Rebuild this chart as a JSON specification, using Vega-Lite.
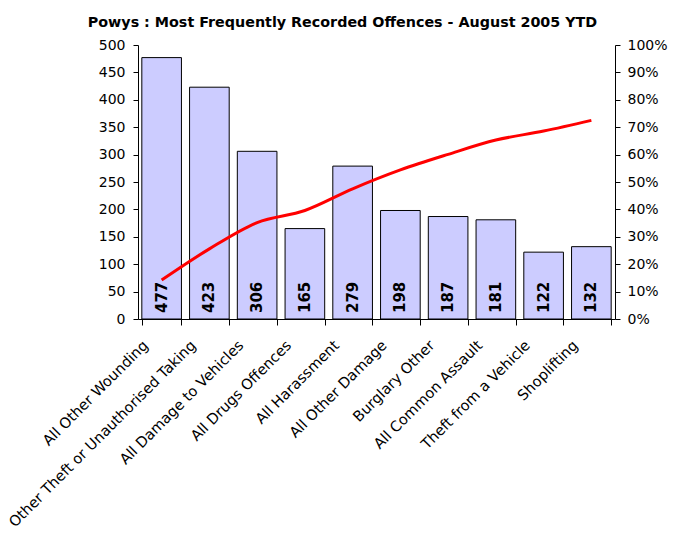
{
  "$schema": "https://vega.github.io/schema/vega-lite/v6.json",
  "background": "white",
  "padding": {"left": 5, "right": 5, "top": 15, "bottom": 5},
  "width": 477,
  "height": 274,
  "title": {
    "text": "Powys : Most Frequently Recorded Offences - August 2005 YTD",
    "font": "DejaVu Sans",
    "fontSize": 14.3,
    "fontWeight": "bold",
    "color": "black",
    "anchor": "middle",
    "frame": "bounds",
    "dx": 6,
    "offset": 8
  },
  "data": {
    "values": [
      {"offence": "All Other Wounding", "count": 477, "cum": 0.142},
      {"offence": "Other Theft or Unauthorised Taking", "count": 423, "cum": 0.256},
      {"offence": "All Damage to Vehicles", "count": 306, "cum": 0.352},
      {"offence": "All Drugs Offences", "count": 165, "cum": 0.396},
      {"offence": "All Harassment", "count": 279, "cum": 0.475},
      {"offence": "All Other Damage", "count": 198, "cum": 0.544},
      {"offence": "Burglary Other", "count": 187, "cum": 0.601},
      {"offence": "All Common Assault", "count": 181, "cum": 0.653},
      {"offence": "Theft from a Vehicle", "count": 122, "cum": 0.686},
      {"offence": "Shoplifting", "count": 132, "cum": 0.725}
    ]
  },
  "encoding": {
    "x": {
      "field": "offence",
      "type": "nominal",
      "sort": null,
      "scale": {"paddingInner": 0.17, "paddingOuter": 0.08},
      "axis": {
        "title": null,
        "labelAngle": -45,
        "labelAlign": "right",
        "labelBaseline": "middle",
        "labelFont": "DejaVu Sans",
        "labelFontSize": 14.6,
        "labelColor": "black",
        "labelPadding": 18,
        "labelOffset": -16,
        "labelLimit": 400,
        "tickBand": "extent",
        "tickColor": "black",
        "tickSize": 6,
        "domainColor": "black"
      }
    }
  },
  "layer": [
    {
      "layer": [
        {
          "mark": {"type": "bar", "fill": "#CCCCFF", "stroke": "black", "strokeWidth": 1},
          "encoding": {
            "y": {
              "field": "count",
              "type": "quantitative",
              "scale": {"domain": [0, 500], "nice": false},
              "axis": {
                "title": null,
                "values": [0, 50, 100, 150, 200, 250, 300, 350, 400, 450, 500],
                "labelOverlap": false,
                "grid": false,
                "labelFont": "DejaVu Sans",
                "labelFontSize": 14,
                "labelColor": "black",
                "tickColor": "black",
                "tickSize": 5,
                "domainColor": "black",
                "labelPadding": 8
              }
            }
          }
        },
        {
          "mark": {
            "type": "text",
            "angle": 270,
            "align": "left",
            "baseline": "middle",
            "dx": 6,
            "font": "DejaVu Sans",
            "fontSize": 15,
            "fontWeight": "bold",
            "color": "black"
          },
          "encoding": {
            "y": {
              "datum": 0,
              "type": "quantitative",
              "axis": {
                "title": null,
                "values": [0, 50, 100, 150, 200, 250, 300, 350, 400, 450, 500],
                "labelOverlap": false,
                "grid": false,
                "labelFont": "DejaVu Sans",
                "labelFontSize": 14,
                "labelColor": "black",
                "tickColor": "black",
                "tickSize": 5,
                "domainColor": "black",
                "labelPadding": 8
              }
            },
            "text": {"field": "count", "type": "quantitative"}
          }
        }
      ]
    },
    {
      "mark": {"type": "line", "color": "#FF0000", "strokeWidth": 3, "interpolate": "monotone"},
      "encoding": {
        "y": {
          "field": "cum",
          "type": "quantitative",
          "scale": {"domain": [0, 1], "nice": false},
          "axis": {
            "title": null,
            "orient": "right",
            "format": ".0%",
            "values": [0, 0.1, 0.2, 0.3, 0.4, 0.5, 0.6, 0.7, 0.8, 0.9, 1],
            "labelOverlap": false,
            "grid": false,
            "labelFont": "DejaVu Sans",
            "labelFontSize": 14,
            "labelColor": "black",
            "tickColor": "black",
            "tickSize": 5,
            "domainColor": "black",
            "labelPadding": 7
          }
        }
      }
    }
  ],
  "resolve": {"scale": {"y": "independent"}},
  "config": {
    "view": {"stroke": null},
    "axis": {"domainWidth": 1, "tickWidth": 1}
  }
}
